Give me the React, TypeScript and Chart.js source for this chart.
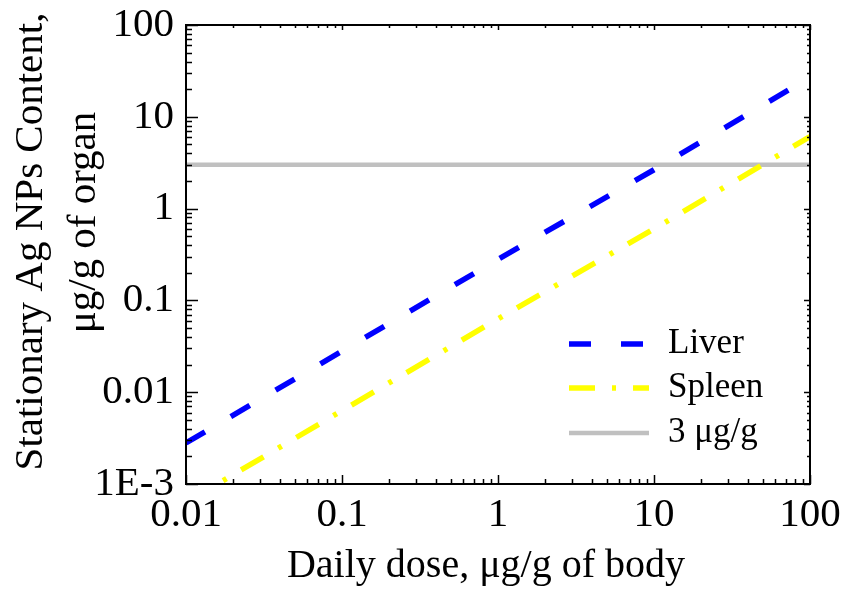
import React, { useEffect, useRef } from 'react';
import { Chart, registerables } from 'chart.js';

Chart.register(...registerables);

// ---- data ----
const doses = [0.01, 0.1, 1, 10, 100];
const liver = [0.0028, 0.028, 0.28, 2.65, 27];
const spleen = [0.00063, 0.0063, 0.063, 0.6, 6.1];
const threshold = [3, 3, 3, 3, 3];

const seriesLabels = ['Liver', 'Spleen', '3 μg/g'];

const xTicks = [0.01, 0.1, 1, 10, 100];
const xTickLabels = ['0.01', '0.1', '1', '10', '100'];
const yTicks = [0.001, 0.01, 0.1, 1, 10, 100];
const yTickLabels = ['1E-3', '0.01', '0.1', '1', '10', '100'];

const xTitle = 'Daily dose, μg/g of body';
const yTitle = ['Stationary Ag NPs Content,', 'μg/g of organ'];

const FONT = '"Liberation Serif", "Times New Roman", serif';

function minorValues(min: number, max: number) {
  const out: { v: number; major: boolean }[] = [];
  let d = Math.pow(10, Math.floor(Math.log10(min) + 1e-9));
  while (d <= max * 1.0001) {
    for (let k = 1; k <= 9; k++) {
      const v = k * d;
      if (v >= min * 0.9999 && v <= max * 1.0001) out.push({ v, major: k === 1 });
    }
    d *= 10;
  }
  return out;
}

const framePlugin = {
  id: 'frameTicks',
  afterDatasetsDraw(chart: any) {
    const { ctx, chartArea, scales } = chart;
    const { left, right, top, bottom } = chartArea;
    ctx.save();
    ctx.strokeStyle = '#000';
    ctx.lineWidth = 1.5;
    ctx.setLineDash([]);
    ctx.beginPath();
    for (const t of minorValues(scales.x.min, scales.x.max)) {
      const px = Math.round(scales.x.getPixelForValue(t.v)) + 0.5;
      const lb = t.major ? 9 : 5;
      const lt = t.major ? 5 : 3;
      ctx.moveTo(px, bottom);
      ctx.lineTo(px, bottom - lb);
      ctx.moveTo(px, top);
      ctx.lineTo(px, top + lt);
    }
    for (const t of minorValues(scales.y.min, scales.y.max)) {
      const py = Math.round(scales.y.getPixelForValue(t.v)) + 0.5;
      const ll = t.major ? 12 : 6;
      const lr = t.major ? 6 : 3;
      ctx.moveTo(left, py);
      ctx.lineTo(left + ll, py);
      ctx.moveTo(right, py);
      ctx.lineTo(right - lr, py);
    }
    ctx.stroke();
    ctx.lineWidth = 2;
    ctx.strokeRect(left, top, right - left, bottom - top);
    ctx.restore();
  },
};

const legendPlugin = {
  id: 'insideLegend',
  afterDraw(chart: any) {
    const { ctx, chartArea } = chart;
    const x0 = chartArea.right - 241;
    const x1 = chartArea.right - 161;
    const tx = chartArea.right - 142;
    const rows = [-140, -96, -51];
    chart.data.datasets.forEach((ds: any, i: number) => {
      const y = chartArea.bottom + rows[i];
      ctx.save();
      ctx.strokeStyle = ds.borderColor;
      ctx.lineWidth = ds.borderWidth;
      ctx.lineCap = 'butt';
      ctx.setLineDash(ds.borderDash || []);
      ctx.beginPath();
      ctx.moveTo(x0, y);
      ctx.lineTo(x1, y);
      ctx.stroke();
      ctx.setLineDash([]);
      ctx.fillStyle = '#000';
      ctx.font = `35px ${FONT}`;
      ctx.textBaseline = 'middle';
      ctx.textAlign = 'left';
      ctx.fillText(ds.label, tx, y);
      ctx.restore();
    });
  },
};

const titlePlugin = {
  id: 'axisTitles',
  afterDraw(chart: any) {
    const { ctx, chartArea } = chart;
    ctx.save();
    ctx.fillStyle = '#000';
    ctx.font = `40px ${FONT}`;
    ctx.textAlign = 'center';
    ctx.textBaseline = 'alphabetic';
    const cx = (chartArea.left + chartArea.right) / 2 - 12;
    ctx.fillText(xTitle, cx, chartArea.bottom + 93);
    ctx.font = `41px ${FONT}`;
    const cy = (chartArea.top + chartArea.bottom) / 2;
    const lines = [
      { x: 42, y: cy - 13 },
      { x: 95, y: cy - 32 },
    ];
    yTitle.forEach((t, i) => {
      ctx.save();
      ctx.translate(lines[i].x, lines[i].y);
      ctx.rotate(-Math.PI / 2);
      ctx.fillText(t, 0, 0);
      ctx.restore();
    });
    ctx.restore();
  },
};

export default function App() {
  const ref = useRef<HTMLCanvasElement>(null);

  useEffect(() => {
    document.body.style.margin = '0';
    const canvas = ref.current!;
    const pts = (ys: number[]) => doses.map((x, i) => ({ x, y: ys[i] }));
    const chart = new Chart(canvas, {
      type: 'line',
      data: {
        datasets: [
          {
            label: seriesLabels[0],
            data: pts(liver),
            borderColor: '#0000ff',
            borderWidth: 5.5,
            borderDash: [22, 30],
            pointRadius: 0,
            fill: false,
            clip: 0,
          },
          {
            label: seriesLabels[1],
            data: pts(spleen),
            borderColor: '#ffff00',
            borderWidth: 5.5,
            borderDash: [26, 17, 4, 17],
            pointRadius: 0,
            fill: false,
            clip: 0,
          },
          {
            label: seriesLabels[2],
            data: pts(threshold),
            borderColor: '#c0c0c0',
            borderWidth: 4.5,
            pointRadius: 0,
            fill: false,
            clip: 0,
          },
        ],
      } as any,
      options: {
        responsive: false,
        animation: false,
        layout: { padding: { top: 25, right: 34, left: 0, bottom: 0 } },
        plugins: {
          legend: { display: false },
          tooltip: { enabled: false },
        },
        scales: {
          x: {
            type: 'logarithmic',
            min: 0.01,
            max: 100,
            grid: { display: false, drawTicks: false },
            border: { display: false },
            afterBuildTicks: (s: any) => {
              s.ticks = xTicks.map((v) => ({ value: v }));
            },
            afterFit: (s: any) => {
              s.height = 105;
              s.paddingLeft = 0;
              s.paddingRight = 0;
              s.paddingTop = 0;
              s.paddingBottom = 0;
            },
            ticks: {
              autoSkip: false,
              maxRotation: 0,
              padding: 7,
              color: '#000',
              font: { family: FONT, size: 41 },
              callback: (v: any) => {
                const i = xTicks.findIndex((t) => Math.abs(Math.log10(t) - Math.log10(v)) < 1e-6);
                return i >= 0 ? xTickLabels[i] : '';
              },
            },
            title: { display: false },
          },
          y: {
            type: 'logarithmic',
            min: 0.001,
            max: 100,
            grid: { display: false, drawTicks: false },
            border: { display: false },
            afterBuildTicks: (s: any) => {
              s.ticks = yTicks.map((v) => ({ value: v }));
            },
            afterFit: (s: any) => {
              s.width = 186;
              s.paddingLeft = 0;
              s.paddingRight = 0;
              s.paddingTop = 0;
              s.paddingBottom = 0;
            },
            ticks: {
              autoSkip: false,
              padding: 12,
              color: '#000',
              font: { family: FONT, size: 41 },
              callback: (v: any) => {
                const i = yTicks.findIndex((t) => Math.abs(Math.log10(t) - Math.log10(v)) < 1e-6);
                return i >= 0 ? yTickLabels[i] : '';
              },
            },
            title: { display: false },
          },
        },
      } as any,
      plugins: [framePlugin, legendPlugin, titlePlugin],
    });
    return () => chart.destroy();
  }, []);

  return (
    <div style={{ width: 844, height: 589 }}>
      <canvas ref={ref} width={844} height={589} style={{ display: 'block' }} />
    </div>
  );
}
